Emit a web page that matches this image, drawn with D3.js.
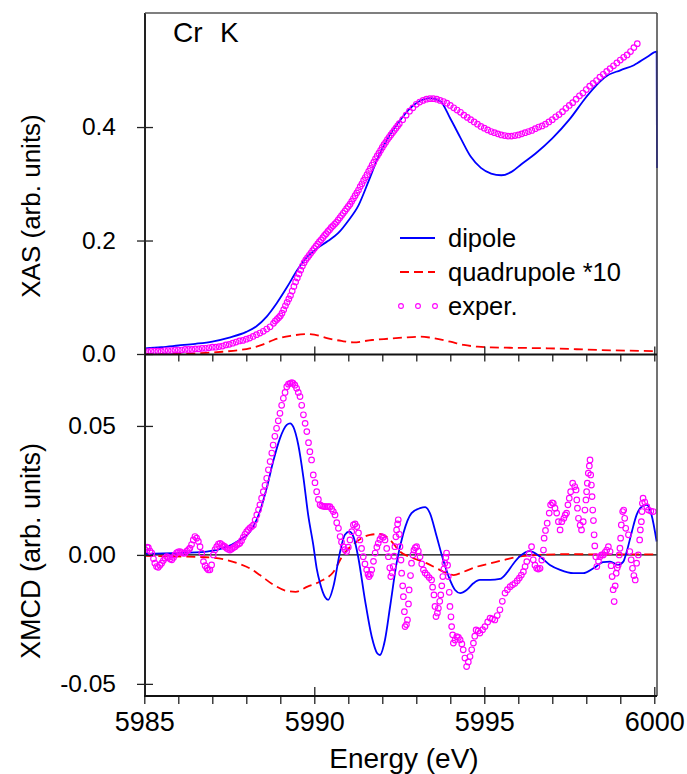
<!DOCTYPE html>
<html><head><meta charset="utf-8">
<script src="https://cdn.jsdelivr.net/npm/d3@7"></script>
<style>
body{margin:0;background:#fff}
text{font-family:"Liberation Sans",Arial,Helvetica,sans-serif;fill:#000}
</style>
</head><body>
<svg id="c" width="687" height="774"></svg>
<script>
// ---------------- DATA ----------------
// XAS (top panel), arb. units
const xasDipoleE = [5985.0,5985.5,5986.0,5986.5,5987.0,5987.5,5988.0,5988.3,5988.6,5988.9,5989.2,5989.5,5989.8,5990.1,5990.4,5990.7,5991.0,5991.3,5991.6,5991.9,5992.2,5992.5,5992.8,5993.1,5993.4,5993.7,5994.0,5994.3,5994.6,5994.9,5995.2,5995.5,5995.8,5996.1,5996.5,5997.0,5997.5,5998.0,5998.3,5998.6,5999.0,5999.4,5999.8,6000.07,6000.08];
const xasDipole  = [0.010,0.012,0.015,0.018,0.022,0.029,0.039,0.049,0.066,0.090,0.118,0.148,0.172,0.187,0.199,0.213,0.235,0.262,0.305,0.350,0.384,0.410,0.432,0.446,0.451,0.446,0.415,0.381,0.348,0.328,0.318,0.315,0.321,0.335,0.353,0.380,0.413,0.453,0.474,0.490,0.500,0.509,0.524,0.533,0.328];

const xasQuadE = [5985.0,5986.0,5986.8,5987.3,5987.8,5988.1,5988.5,5988.8,5989.3,5989.8,5990.0,5990.4,5990.8,5991.15,5991.7,5992.2,5992.6,5993.1,5993.4,5994.0,5994.4,5994.8,5995.2,5995.75,5996.9,5998.4,6000.08];
const xasQuad  = [0.000,0.0005,0.002,0.004,0.007,0.010,0.017,0.0247,0.032,0.035,0.034,0.0276,0.023,0.0206,0.0247,0.027,0.0288,0.0305,0.029,0.0217,0.016,0.0129,0.0115,0.011,0.010,0.007,0.005];

const xasExpE = [5985.0,5985.1,5985.2,5985.3,5985.4,5985.5,5985.6,5985.7,5985.8,5985.9,5986.0,5986.1,5986.2,5986.3,5986.4,5986.5,5986.6,5986.7,5986.8,5986.9,5987.0,5987.1,5987.2,5987.3,5987.4,5987.5,5987.6,5987.7,5987.8,5987.9,5988.0,5988.1,5988.2,5988.3,5988.4,5988.5,5988.6,5988.7,5988.8,5988.85,5988.9,5988.95,5989.0,5989.05,5989.1,5989.15,5989.2,5989.25,5989.3,5989.35,5989.4,5989.45,5989.5,5989.55,5989.6,5989.65,5989.7,5989.75,5989.8,5989.85,5989.9,5989.95,5990.0,5990.05,5990.1,5990.15,5990.2,5990.25,5990.3,5990.35,5990.4,5990.45,5990.5,5990.55,5990.6,5990.65,5990.7,5990.75,5990.8,5990.85,5990.9,5990.95,5991.0,5991.05,5991.1,5991.15,5991.2,5991.25,5991.3,5991.35,5991.4,5991.45,5991.5,5991.55,5991.6,5991.65,5991.7,5991.75,5991.8,5991.85,5991.9,5991.95,5992.0,5992.05,5992.1,5992.15,5992.2,5992.25,5992.3,5992.35,5992.4,5992.45,5992.5,5992.6,5992.7,5992.8,5992.9,5993.0,5993.1,5993.2,5993.3,5993.4,5993.5,5993.6,5993.7,5993.8,5993.9,5994.0,5994.1,5994.2,5994.3,5994.4,5994.5,5994.6,5994.7,5994.8,5994.9,5995.0,5995.1,5995.2,5995.3,5995.4,5995.5,5995.6,5995.7,5995.8,5995.9,5996.0,5996.1,5996.2,5996.3,5996.4,5996.5,5996.6,5996.7,5996.8,5996.9,5997.0,5997.1,5997.2,5997.3,5997.4,5997.5,5997.6,5997.7,5997.8,5997.9,5998.0,5998.1,5998.2,5998.3,5998.4,5998.5,5998.6,5998.7,5998.8,5998.9,5999.0,5999.1,5999.2,5999.3,5999.4,5999.5];
const xasExp  = [0.004,0.004,0.005,0.005,0.005,0.005,0.006,0.006,0.006,0.007,0.007,0.007,0.008,0.008,0.008,0.009,0.009,0.010,0.010,0.011,0.012,0.012,0.013,0.014,0.016,0.017,0.019,0.021,0.023,0.024,0.026,0.028,0.031,0.034,0.037,0.040,0.044,0.048,0.054,0.058,0.061,0.064,0.067,0.072,0.078,0.085,0.091,0.097,0.103,0.111,0.119,0.127,0.134,0.141,0.148,0.155,0.161,0.166,0.170,0.174,0.178,0.182,0.186,0.190,0.194,0.198,0.201,0.205,0.209,0.212,0.216,0.219,0.223,0.226,0.229,0.232,0.236,0.240,0.244,0.248,0.252,0.256,0.260,0.264,0.269,0.274,0.279,0.284,0.289,0.295,0.300,0.306,0.311,0.316,0.322,0.327,0.333,0.338,0.344,0.349,0.354,0.359,0.364,0.369,0.373,0.378,0.382,0.386,0.390,0.394,0.398,0.402,0.406,0.413,0.421,0.428,0.434,0.440,0.444,0.447,0.449,0.450,0.450,0.449,0.447,0.445,0.442,0.438,0.434,0.430,0.426,0.421,0.417,0.413,0.409,0.405,0.401,0.398,0.395,0.392,0.390,0.388,0.386,0.385,0.384,0.384,0.385,0.386,0.388,0.390,0.392,0.394,0.397,0.400,0.402,0.405,0.409,0.413,0.418,0.422,0.427,0.433,0.438,0.443,0.449,0.455,0.460,0.466,0.472,0.477,0.482,0.488,0.493,0.498,0.503,0.508,0.513,0.518,0.523,0.527,0.533,0.540,0.547];

// XMCD (bottom panel), in units of 1e-3 arb. units
const xmcdDipoleE = [5985.0,5985.85,5986.84,5987.32,5987.81,5988.11,5988.40,5988.60,5988.79,5988.99,5989.19,5989.29,5989.38,5989.53,5989.68,5989.82,5989.97,5990.07,5990.17,5990.31,5990.41,5990.56,5990.75,5990.90,5991.03,5991.15,5991.29,5991.49,5991.69,5991.85,5991.93,5992.08,5992.23,5992.42,5992.62,5992.86,5993.11,5993.26,5993.40,5993.60,5993.79,5993.99,5994.14,5994.29,5994.48,5994.68,5994.87,5995.17,5995.46,5995.66,5995.85,5996.05,5996.34,5996.64,5996.93,5997.23,5997.62,5997.91,5998.21,5998.50,5998.70,5998.94,5999.09,5999.19,5999.34,5999.48,5999.63,5999.78,5999.92,6000.07];
const xmcdDipole  = [0.4,0.7,1.3,2.6,5.8,9.0,16.8,25.9,36.2,45.2,50.4,51.0,49.7,42.6,30.0,15.5,3.9,-5.2,-11.0,-16.2,-17.4,-12.3,0.7,7.8,9.0,7.1,-0.7,-17.4,-31.7,-38.1,-38.8,-32.9,-20.0,-3.2,8.4,16.2,18.1,18.5,16.2,7.1,-1.9,-9.7,-13.6,-14.8,-13.6,-11.0,-9.7,-9.7,-9.3,-7.0,-3.5,-0.5,1.5,-0.7,-3.9,-5.8,-7.1,-7.1,-5.2,-2.8,-2.6,-3.9,-2.6,1.3,9.0,15.5,18.7,19.4,15.5,5.2];

const xmcdQuadE = [5985.0,5985.9,5986.8,5987.4,5987.8,5988.1,5988.4,5988.8,5989.2,5989.45,5989.8,5990.17,5990.55,5990.85,5991.25,5991.64,5991.93,5992.23,5992.52,5992.91,5993.3,5993.6,5993.9,5994.1,5994.4,5994.8,5995.2,5995.6,5996.0,5996.6,5997.5,5998.5,6000.08];
const xmcdQuad  = [-0.4,-0.6,-0.9,-1.9,-3.5,-5.2,-7.8,-11.6,-14.0,-14.3,-12.3,-10.3,-6.8,0.0,5.2,7.8,8.1,5.8,1.3,-1.3,-3.2,-5.2,-7.1,-7.8,-6.5,-4.5,-3.2,-1.9,-0.7,0.0,0.3,0.2,0.2];

const xmcdExpE = [5985.02,5985.08,5985.12,5985.17,5985.22,5985.27,5985.31,5985.36,5985.41,5985.46,5985.51,5985.56,5985.61,5985.66,5985.71,5985.76,5985.81,5985.86,5985.90,5985.95,5986.00,5986.05,5986.10,5986.15,5986.20,5986.25,5986.30,5986.34,5986.39,5986.44,5986.49,5986.54,5986.59,5986.64,5986.69,5986.74,5986.79,5986.84,5986.88,5986.93,5986.98,5987.03,5987.08,5987.13,5987.18,5987.23,5987.28,5987.33,5987.37,5987.42,5987.47,5987.52,5987.57,5987.62,5987.67,5987.72,5987.77,5987.81,5987.86,5987.91,5987.96,5988.01,5988.06,5988.11,5988.16,5988.21,5988.26,5988.31,5988.36,5988.40,5988.45,5988.50,5988.55,5988.60,5988.65,5988.70,5988.75,5988.79,5988.84,5988.89,5988.94,5988.99,5989.04,5989.09,5989.14,5989.19,5989.24,5989.29,5989.34,5989.38,5989.43,5989.48,5989.53,5989.58,5989.63,5989.68,5989.73,5989.78,5989.83,5989.87,5989.92,5989.97,5990.02,5990.07,5990.12,5990.17,5990.22,5990.27,5990.31,5990.36,5990.41,5990.46,5990.51,5990.56,5990.61,5990.66,5990.71,5990.76,5990.80,5990.85,5990.90,5990.95,5991.00,5991.05,5991.10,5991.15,5991.20,5991.25,5991.30,5991.34,5991.39,5991.44,5991.49,5991.54,5991.58,5991.61,5991.65,5991.69,5991.74,5991.79,5991.84,5991.88,5991.93,5991.98,5992.03,5992.08,5992.13,5992.18,5992.22,5992.25,5992.29,5992.32,5992.35,5992.37,5992.40,5992.42,5992.45,5992.47,5992.50,5992.52,5992.55,5992.57,5992.60,5992.62,5992.65,5992.67,5992.71,5992.74,5992.77,5992.79,5992.83,5992.86,5992.90,5992.93,5992.97,5993.01,5993.06,5993.11,5993.16,5993.21,5993.26,5993.32,5993.38,5993.45,5993.48,5993.52,5993.55,5993.58,5993.62,5993.65,5993.69,5993.72,5993.75,5993.78,5993.81,5993.84,5993.87,5993.89,5993.92,5993.94,5993.97,5993.99,5994.02,5994.04,5994.07,5994.09,5994.14,5994.19,5994.24,5994.29,5994.34,5994.38,5994.43,5994.48,5994.53,5994.58,5994.63,5994.68,5994.72,5994.76,5994.82,5994.87,5994.95,5995.02,5995.10,5995.17,5995.24,5995.31,5995.38,5995.46,5995.53,5995.61,5995.68,5995.76,5995.83,5995.90,5995.97,5996.03,5996.09,5996.15,5996.20,5996.25,5996.32,5996.39,5996.44,5996.49,5996.54,5996.59,5996.64,5996.69,5996.74,5996.76,5996.80,5996.85,5996.91,5996.95,5997.00,5997.03,5997.08,5997.13,5997.18,5997.23,5997.28,5997.34,5997.38,5997.42,5997.46,5997.50,5997.54,5997.60,5997.66,5997.70,5997.72,5997.74,5997.77,5997.82,5997.86,5997.91,5997.96,5997.99,5998.01,5998.03,5998.06,5998.09,5998.11,5998.13,5998.15,5998.17,5998.19,5998.21,5998.23,5998.25,5998.28,5998.31,5998.36,5998.40,5998.45,5998.50,5998.55,5998.60,5998.65,5998.70,5998.73,5998.76,5998.79,5998.82,5998.85,5998.88,5998.91,5998.94,5998.97,5998.99,5999.01,5999.03,5999.07,5999.10,5999.13,5999.16,5999.24,5999.28,5999.32,5999.36,5999.40,5999.44,5999.48,5999.53,5999.57,5999.59,5999.62,5999.64,5999.65,5999.67,5999.72,5999.78,5999.83,5999.90,5999.97];
const xmcdExp  = [2.0,3.0,2.8,1.5,0.7,-1.5,-3.2,-4.5,-4.8,-4.0,-3.2,-2.2,-1.2,-0.7,-1.0,-1.6,-1.9,-1.0,0.0,0.8,1.2,1.3,0.9,0.6,0.7,1.5,2.0,2.6,4.0,5.8,7.1,6.5,5.2,3.2,0.7,-2.6,-4.2,-5.2,-5.8,-5.8,-3.9,0.0,2.0,3.2,4.2,4.5,4.0,3.5,3.2,2.6,2.2,1.9,2.3,2.8,3.2,3.8,4.2,4.5,5.5,6.8,8.0,9.0,9.8,10.5,11.0,11.6,13.5,15.5,17.5,19.4,22.0,24.5,27.0,29.7,33.0,36.2,39.5,42.6,46.0,49.1,52.0,54.9,58.0,60.7,63.0,65.2,66.2,66.5,66.8,66.5,65.8,64.6,63.0,61.4,58.0,54.3,51.0,47.8,43.5,40.0,36.8,31.0,28.0,24.5,21.5,19.4,19.0,18.8,18.7,18.7,18.7,18.7,17.8,16.8,15.5,12.5,10.3,7.1,5.0,3.2,2.0,1.3,3.0,5.8,9.0,11.6,12.0,11.0,8.5,5.8,2.5,-0.7,-3.5,-5.8,-7.5,-8.4,-7.5,-5.8,-2.5,0.7,3.0,4.5,6.0,7.1,6.8,5.8,2.5,-0.7,-5.0,-8.4,-7.0,-4.5,-0.5,3.2,7.0,9.7,12.0,13.6,8.0,3.2,-2.0,-7.1,-12.0,-16.2,-22.0,-27.8,-27.0,-25.2,-19.0,-13.6,-8.0,-3.2,0.0,1.9,2.8,3.2,1.5,-0.7,-3.5,-5.8,-7.0,-7.8,-8.8,-9.7,-12.5,-15.5,-20.0,-23.9,-22.5,-20.7,-18.0,-15.5,-12.0,-8.4,-5.5,-3.2,-1.0,0.7,-4.0,-8.4,-14.5,-20.0,-24.0,-27.8,-31.0,-34.2,-33.0,-31.7,-32.0,-32.9,-34.5,-36.8,-40.0,-43.3,-41.5,-39.4,-36.8,-34.2,-31.5,-29.1,-29.5,-30.3,-29.0,-27.8,-26.0,-24.5,-24.8,-25.2,-23.5,-21.3,-18.0,-14.8,-13.5,-12.3,-11.6,-11.0,-10.0,-9.0,-7.8,-6.5,-4.5,-2.6,0.5,3.2,-1.9,-4.0,-5.2,-5.5,-5.2,-2.0,1.9,6.5,9.5,12.3,16.2,19.4,20.2,20.0,18.1,16.2,12.9,9.7,12.9,14.2,15.5,16.2,19.4,22.0,24.5,27.8,26.5,25.2,21.3,18.1,14.2,11.5,9.7,12.9,17.4,21.3,24.5,27.8,31.7,34.5,36.8,31.0,27.1,22.6,17.4,13.3,7.8,3.5,-0.7,-4.5,-2.5,-0.7,0.0,0.0,1.0,1.9,3.2,1.3,-4.2,-8.4,-13.5,-18.1,-12.0,-7.1,-5.0,-3.9,0.0,2.6,6.5,11.6,16.8,17.4,14.2,10.3,7.8,1.3,-1.9,-5.2,-8.0,-9.7,-3.2,0.0,5.8,9.7,12.9,16.8,20.0,22.0,20.5,18.7,17.4,17.0,16.8];

// axis ticks and labels
const energyDomain = [5985, 6000.08];
const energyMajor = [5985, 5990, 5995, 6000];
const energyMinor = d3.range(5985, 6001, 1);
const xasTicks = [0, 0.2, 0.4];
const xmcdTicks = [-50, 0, 50];          // 1e-3 units
const xmcdTickLabels = ["-0.05", "0.00", "0.05"];
const legendLabels = ["dipole", "quadrupole *10", "exper."];

// ---------------- DRAWING ----------------
const svg = d3.select("#c");
const L = 145, R = 657, T = 13, MID = 354.5, B = 696;
const x = d3.scaleLinear().domain(energyDomain).range([144.3, 657]);
const yT = d3.scaleLinear().domain([0, 0.601]).range([354, 13]);
const yB = d3.scaleLinear().domain([-54.7, 77.5]).range([696, 355]);

const BLUE = "#0000ff", RED = "#ff0000", MAG = "#ff00ff";
const zip = (E, V) => E.map((e, i) => [e, V[i]]);

const defs = svg.append("defs");
defs.append("clipPath").attr("id", "clipT").append("rect").attr("x", L).attr("y", T).attr("width", R - L + 1).attr("height", MID - T);
defs.append("clipPath").attr("id", "clipB").append("rect").attr("x", L).attr("y", MID).attr("width", R - L + 1).attr("height", B - MID);

// ---- top panel
const gT = svg.append("g").attr("clip-path", "url(#clipT)");
const lineT = d3.line().x(d => x(d[0])).y(d => yT(d[1])).curve(d3.curveMonotoneX);
gT.append("path").datum(zip(xasQuadE, xasQuad)).attr("d", lineT)
  .attr("fill", "none").attr("stroke", RED).attr("stroke-width", 1.8).attr("stroke-dasharray", "9,5");
gT.append("path").datum(zip(xasDipoleE, xasDipole)).attr("d", lineT)
  .attr("fill", "none").attr("stroke", BLUE).attr("stroke-width", 1.8);
gT.selectAll("circle").data(zip(xasExpE, xasExp)).join("circle")
  .attr("cx", d => x(d[0])).attr("cy", d => yT(d[1])).attr("r", 2.8)
  .attr("fill", "none").attr("stroke", MAG).attr("stroke-width", 1.15);

// ---- bottom panel
const gB = svg.append("g").attr("clip-path", "url(#clipB)");
gB.append("line").attr("x1", L).attr("x2", R).attr("y1", yB(0)).attr("y2", yB(0))
  .attr("stroke", "#000").attr("stroke-width", 1.2);
const lineB = d3.line().x(d => x(d[0])).y(d => yB(d[1])).curve(d3.curveMonotoneX);
gB.append("path").datum(zip(xmcdQuadE, xmcdQuad)).attr("d", lineB)
  .attr("fill", "none").attr("stroke", RED).attr("stroke-width", 1.8).attr("stroke-dasharray", "9,5");
gB.append("path").datum(zip(xmcdDipoleE, xmcdDipole)).attr("d", lineB)
  .attr("fill", "none").attr("stroke", BLUE).attr("stroke-width", 1.8);
gB.selectAll("circle").data(zip(xmcdExpE, xmcdExp)).join("circle")
  .attr("cx", d => x(d[0])).attr("cy", d => yB(d[1])).attr("r", 2.8)
  .attr("fill", "none").attr("stroke", MAG).attr("stroke-width", 1.15);

// ---- axes
function styleAxis(g, fs) {
  g.select(".domain").remove();
  g.selectAll(".tick line").attr("stroke", "#222").attr("stroke-width", 1.3);
  g.selectAll(".tick text").attr("font-size", fs).attr("fill", "#000")
    .attr("font-family", '"Liberation Sans",Arial,sans-serif');
}
// left, top panel
svg.append("g").attr("transform", `translate(${L},0)`)
  .call(d3.axisLeft(yT).tickValues(xasTicks).tickFormat(d3.format(".1f")).tickSize(8).tickPadding(21))
  .call(g => styleAxis(g, 24.5));
svg.append("g").attr("transform", `translate(${L},0)`)
  .call(d3.axisRight(yT).tickValues(xasTicks).tickFormat("").tickSize(8))
  .call(g => styleAxis(g, 24));
// left, bottom panel
svg.append("g").attr("transform", `translate(${L},0)`)
  .call(d3.axisLeft(yB).tickValues(xmcdTicks).tickFormat((d, i) => xmcdTickLabels[i]).tickSize(8).tickPadding(21))
  .call(g => styleAxis(g, 24.5));
svg.append("g").attr("transform", `translate(${L},0)`)
  .call(d3.axisRight(yB).tickValues(xmcdTicks).tickFormat("").tickSize(8))
  .call(g => styleAxis(g, 24));
// middle separator: top panel inward majors, bottom panel inward minors
svg.append("g").attr("transform", `translate(0,${MID})`)
  .call(d3.axisTop(x).tickValues(energyMajor.slice(1)).tickFormat("").tickSize(8))
  .call(g => styleAxis(g, 24));
svg.append("g").attr("transform", `translate(0,${MID})`)
  .call(d3.axisBottom(x).tickValues(energyMinor).tickFormat("").tickSize(7))
  .call(g => styleAxis(g, 24));
// bottom axis
svg.append("g").attr("transform", `translate(0,${B})`)
  .call(d3.axisBottom(x).tickValues(energyMinor)
    .tickFormat(d => energyMajor.includes(d) ? String(d) : "").tickSize(8).tickPadding(8))
  .call(g => styleAxis(g, 27));
svg.append("g").attr("transform", `translate(0,${B})`)
  .call(d3.axisTop(x).tickValues(energyMajor).tickFormat("").tickSize(9))
  .call(g => styleAxis(g, 27));

// frame
const frame = svg.append("g").attr("fill", "none");
frame.append("line").attr("x1", L).attr("x2", L).attr("y1", T).attr("y2", B).attr("stroke", "#222").attr("stroke-width", 2);
frame.append("line").attr("x1", L).attr("x2", R).attr("y1", T).attr("y2", T).attr("stroke", "#555").attr("stroke-width", 1.5);
frame.append("line").attr("x1", R).attr("x2", R).attr("y1", T).attr("y2", B).attr("stroke", "#444").attr("stroke-width", 1.5);
frame.append("line").attr("x1", L).attr("x2", R).attr("y1", MID).attr("y2", MID).attr("stroke", "#111").attr("stroke-width", 2);
frame.append("line").attr("x1", L - 1).attr("x2", R).attr("y1", B).attr("y2", B).attr("stroke", "#111").attr("stroke-width", 2);

// titles
svg.append("text").attr("x", 173).attr("y", 42).attr("font-size", 28).text("Cr");
svg.append("text").attr("x", 220).attr("y", 42).attr("font-size", 28).text("K");
svg.append("text").attr("transform", "translate(40,206) rotate(-90)").attr("text-anchor", "middle")
  .attr("font-size", 26).text("XAS (arb. units)");
svg.append("text").attr("transform", "translate(40,551) rotate(-90)").attr("text-anchor", "middle")
  .attr("font-size", 27).text("XMCD (arb. units)");
svg.append("text").attr("x", 404).attr("y", 768).attr("text-anchor", "middle")
  .attr("font-size", 28).text("Energy (eV)");

// legend
const lg = svg.append("g");
const legY = [238, 272, 306];
lg.append("line").attr("x1", 400).attr("x2", 435).attr("y1", legY[0]).attr("y2", legY[0]).attr("stroke", BLUE).attr("stroke-width", 1.8);
lg.append("line").attr("x1", 400).attr("x2", 435).attr("y1", legY[1]).attr("y2", legY[1]).attr("stroke", RED).attr("stroke-width", 1.8).attr("stroke-dasharray", "9,5");
lg.selectAll("circle").data([401, 418, 435]).join("circle")
  .attr("cx", d => d).attr("cy", legY[2]).attr("r", 2.4).attr("fill", "none").attr("stroke", MAG).attr("stroke-width", 1.1);
lg.selectAll("text").data(legendLabels).join("text")
  .attr("x", 448).attr("y", (d, i) => legY[i] + 9).attr("font-size", 25.5).text(d => d);
</script>
</body></html>
